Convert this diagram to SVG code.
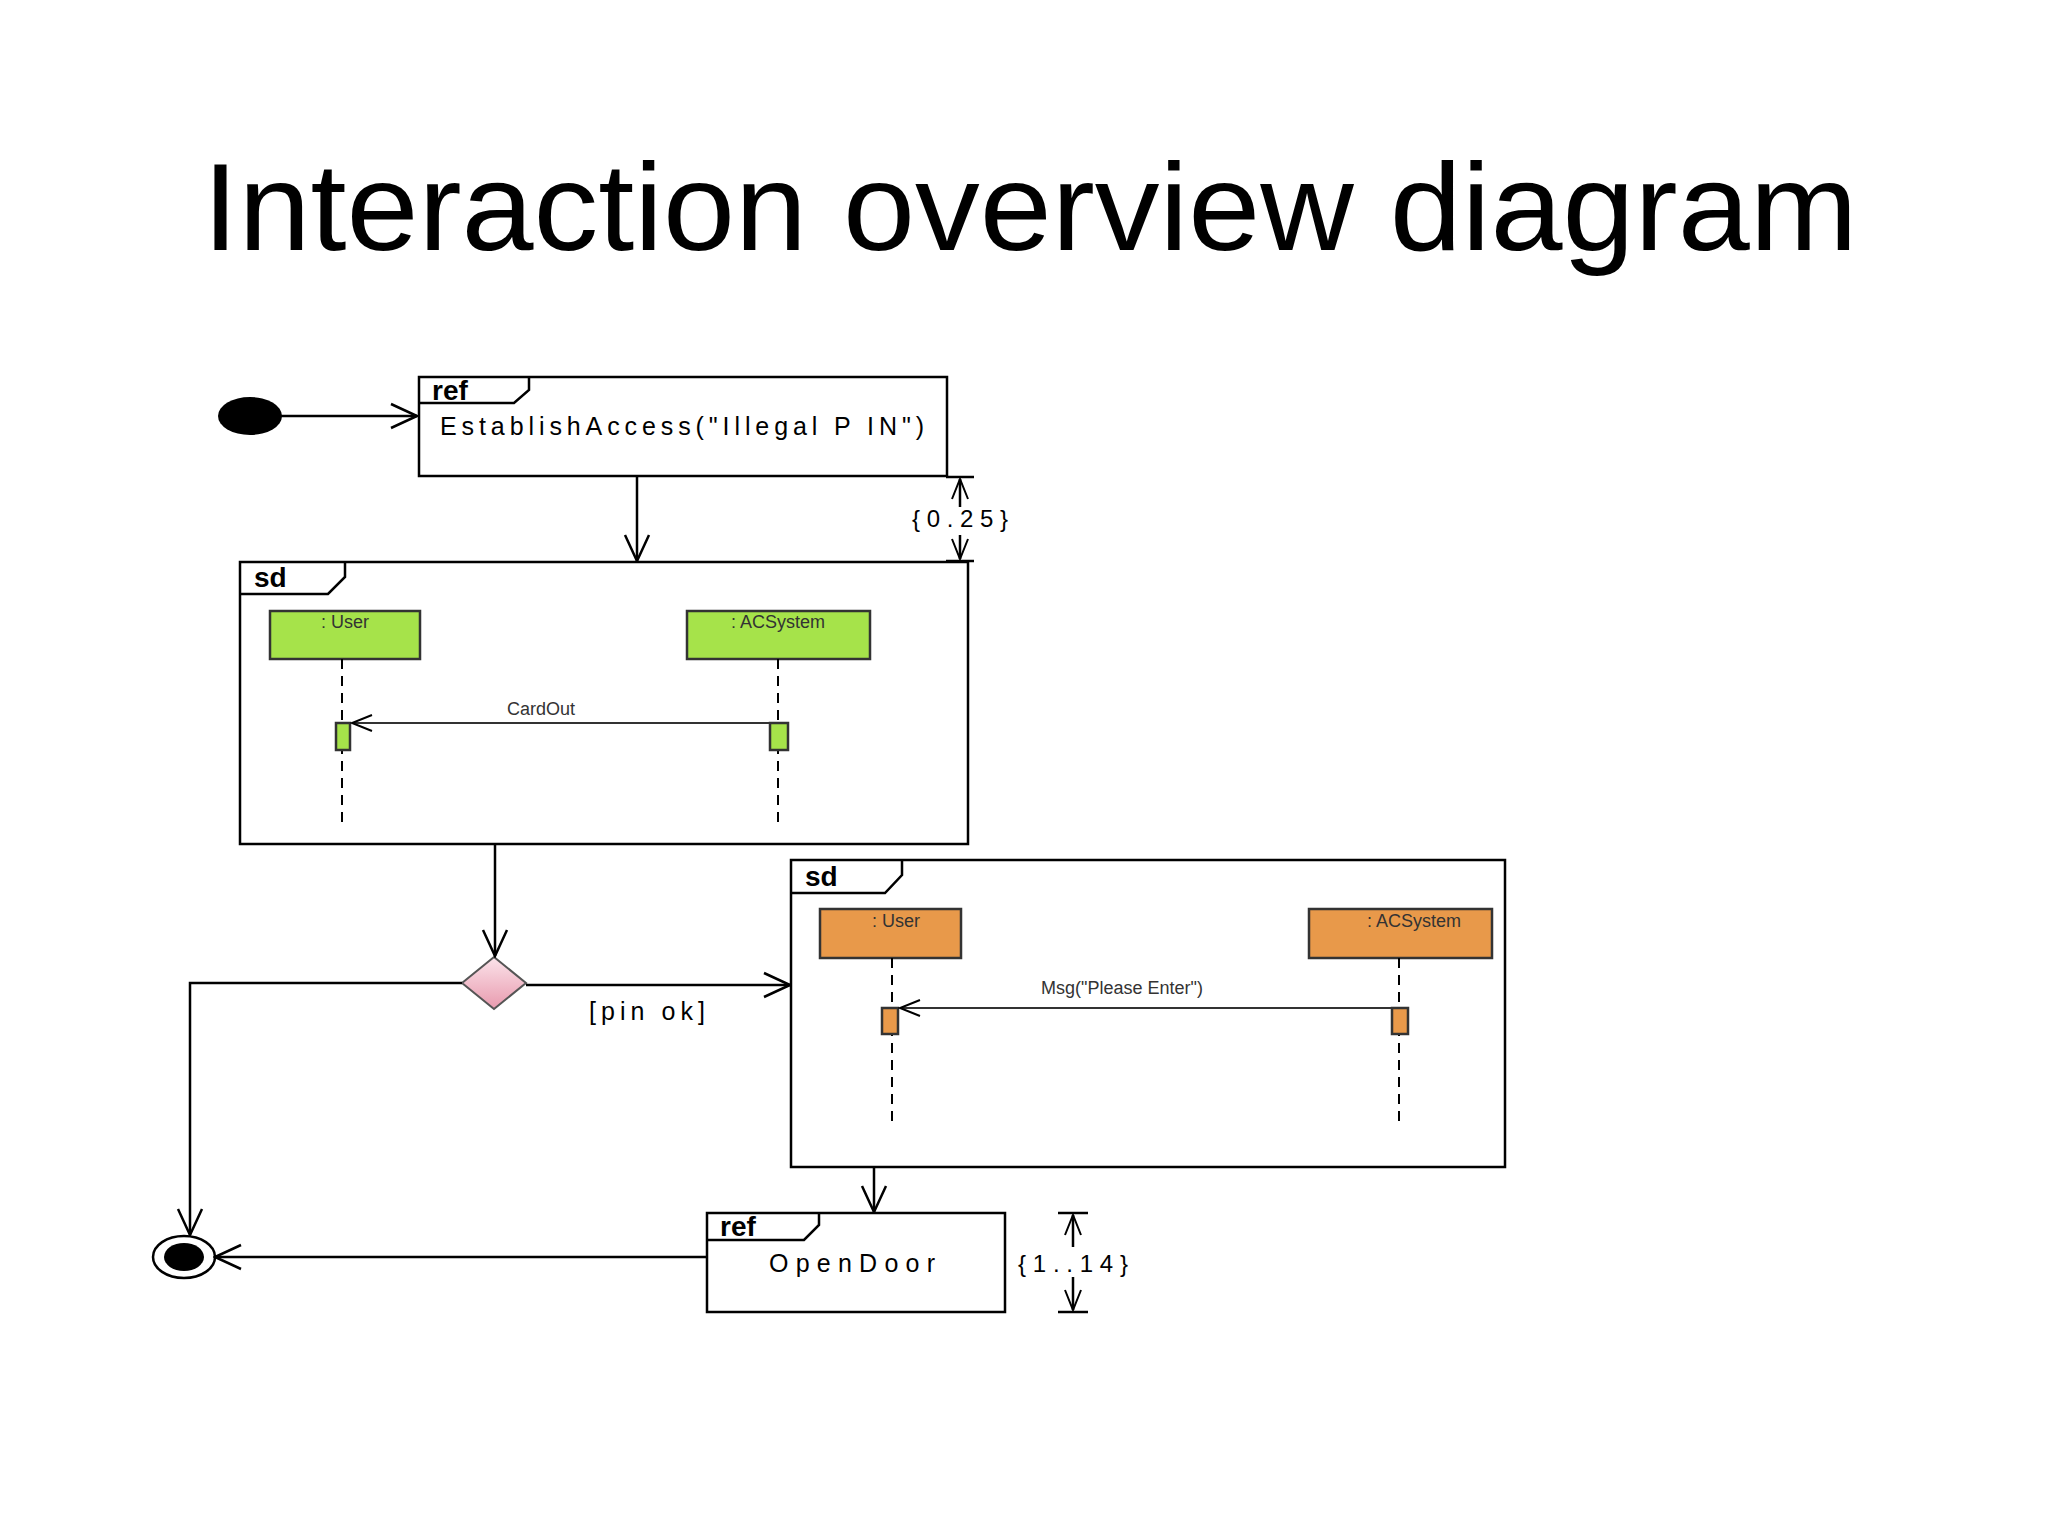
<svg xmlns="http://www.w3.org/2000/svg" width="2048" height="1536" viewBox="0 0 2048 1536">
<defs>
<style>
.f{fill:none;stroke:#000;stroke-width:2.5}
.b{fill:#fff;stroke:#000;stroke-width:2.5}
.t{font-family:"Liberation Sans",Arial,sans-serif;fill:#000}
.tab{font-family:"Liberation Sans",Arial,sans-serif;font-weight:bold;font-size:28px}
.ll{stroke:#000;stroke-width:2;stroke-dasharray:10,7}
.g{fill:#a6e34a;stroke:#333;stroke-width:2.5}
.o{fill:#e8994a;stroke:#333;stroke-width:2.5}
.lab{font-family:"Liberation Sans",Arial,sans-serif;font-size:18px;fill:#333}
</style>
<marker id="a" markerWidth="30" markerHeight="30" refX="28" refY="15" orient="auto" markerUnits="userSpaceOnUse"><path d="M2,3 L28,15 L2,27" fill="none" stroke="#000" stroke-width="2.5"/></marker>
<marker id="s" markerWidth="24" markerHeight="24" refX="22" refY="12" orient="auto" markerUnits="userSpaceOnUse"><path d="M2,4 L22,12 L2,20" fill="none" stroke="#000" stroke-width="2"/></marker>
<linearGradient id="pk" x1="0" y1="0" x2="0" y2="1"><stop offset="0" stop-color="#fbe3ea"/><stop offset="1" stop-color="#e89aae"/></linearGradient>
</defs>
<rect width="2048" height="1536" fill="#fff"/>
<text class="t" x="1030" y="250" font-size="124" text-anchor="middle" textLength="1655" lengthAdjust="spacingAndGlyphs">Interaction overview diagram</text>
<g transform="translate(-4,-5)">
<g id="initial"><ellipse cx="254" cy="421" rx="32" ry="19" fill="#000"/></g>

<g id="ref1">
<rect class="b" x="423" y="382" width="528" height="99"/>
<path class="f" d="M423,408 H518 L533,395 V382"/>
<text class="tab" x="436" y="405">ref</text>
<text class="t" x="444" y="440" font-size="25" textLength="484">EstablishAccess("Illegal P IN")</text>
</g>

<g id="sd1">
<rect class="b" x="244" y="567" width="728" height="282"/>
<path class="f" d="M244,599 H332 L349,582 V567"/>
<text class="tab" x="258" y="592">sd</text>
<rect class="g" x="274" y="616" width="150" height="48"/>
<text class="lab" x="349" y="633" text-anchor="middle">: User</text>
<rect class="g" x="691" y="616" width="183" height="48"/>
<text class="lab" x="782" y="633" text-anchor="middle">: ACSystem</text>
<line class="ll" x1="346" y1="664" x2="346" y2="827"/>
<line class="ll" x1="782" y1="664" x2="782" y2="827"/>
<rect class="g" x="340" y="728" width="14" height="27"/>
<rect class="g" x="774" y="728" width="18" height="27"/>
<line x1="774" y1="728" x2="356" y2="728" stroke="#333" stroke-width="2" marker-end="url(#s)"/>
<text class="lab" x="545" y="720" text-anchor="middle">CardOut</text>
</g>

<g id="decision"><polygon points="498,962 530,988 498,1014 466,988" fill="url(#pk)" stroke="#555" stroke-width="2"/></g>

<g id="sd2">
<rect class="b" x="795" y="865" width="714" height="307"/>
<path class="f" d="M795,898 H889 L906,880 V865"/>
<text class="tab" x="809" y="891">sd</text>
<rect class="o" x="824" y="914" width="141" height="49"/>
<text class="lab" x="900" y="932" text-anchor="middle">: User</text>
<rect class="o" x="1313" y="914" width="183" height="49"/>
<text class="lab" x="1418" y="932" text-anchor="middle">: ACSystem</text>
<line class="ll" x1="896" y1="963" x2="896" y2="1126"/>
<line class="ll" x1="1403" y1="963" x2="1403" y2="1126"/>
<rect class="o" x="886" y="1013" width="16" height="26"/>
<rect class="o" x="1396" y="1013" width="16" height="26"/>
<line x1="1396" y1="1013" x2="904" y2="1013" stroke="#333" stroke-width="2" marker-end="url(#s)"/>
<text class="lab" x="1126" y="999" text-anchor="middle">Msg("Please Enter")</text>
</g>

<g id="ref2">
<rect class="b" x="711" y="1218" width="298" height="99"/>
<path class="f" d="M711,1245 H808 L823,1230 V1218"/>
<text class="tab" x="724" y="1241">ref</text>
<text class="t" x="773" y="1277" font-size="25" textLength="166">OpenDoor</text>
</g>

<g id="final">
<ellipse cx="188" cy="1262" rx="31" ry="21" fill="#fff" stroke="#000" stroke-width="2.5"/>
<ellipse cx="188" cy="1262" rx="20" ry="14" fill="#000"/>
</g>

<g id="connectors">
<line class="f" x1="285" y1="421" x2="421" y2="421" marker-end="url(#a)"/>
<line class="f" x1="641" y1="481" x2="641" y2="566" marker-end="url(#a)"/>
<line class="f" x1="499" y1="849" x2="499" y2="961" marker-end="url(#a)"/>
<line class="f" x1="530" y1="990" x2="794" y2="990" marker-end="url(#a)"/>
<text class="t" x="651" y="1025" font-size="25" text-anchor="middle" textLength="116">[pin ok]</text>
<polyline class="f" points="466,988 194,988 194,1240" marker-end="url(#a)"/>
<line class="f" x1="878" y1="1172" x2="878" y2="1217" marker-end="url(#a)"/>
<line class="f" x1="711" y1="1262" x2="219" y2="1262" marker-end="url(#a)"/>
<g id="dur1">
<line class="f" x1="950" y1="482" x2="978" y2="482"/>
<line class="f" x1="950" y1="566" x2="978" y2="566"/>
<line class="f" x1="964" y1="512" x2="964" y2="484" marker-end="url(#s)"/>
<line class="f" x1="964" y1="540" x2="964" y2="564" marker-end="url(#s)"/>
<text class="t" x="964" y="532" font-size="24" text-anchor="middle" textLength="96">{0.25}</text>
</g>
<g id="dur2">
<line class="f" x1="1062" y1="1218" x2="1092" y2="1218"/>
<line class="f" x1="1062" y1="1317" x2="1092" y2="1317"/>
<line class="f" x1="1077" y1="1252" x2="1077" y2="1220" marker-end="url(#s)"/>
<line class="f" x1="1077" y1="1282" x2="1077" y2="1315" marker-end="url(#s)"/>
<text class="t" x="1077" y="1277" font-size="24" text-anchor="middle" textLength="110">{1..14}</text>
</g>
</g>
</g>
</svg>
